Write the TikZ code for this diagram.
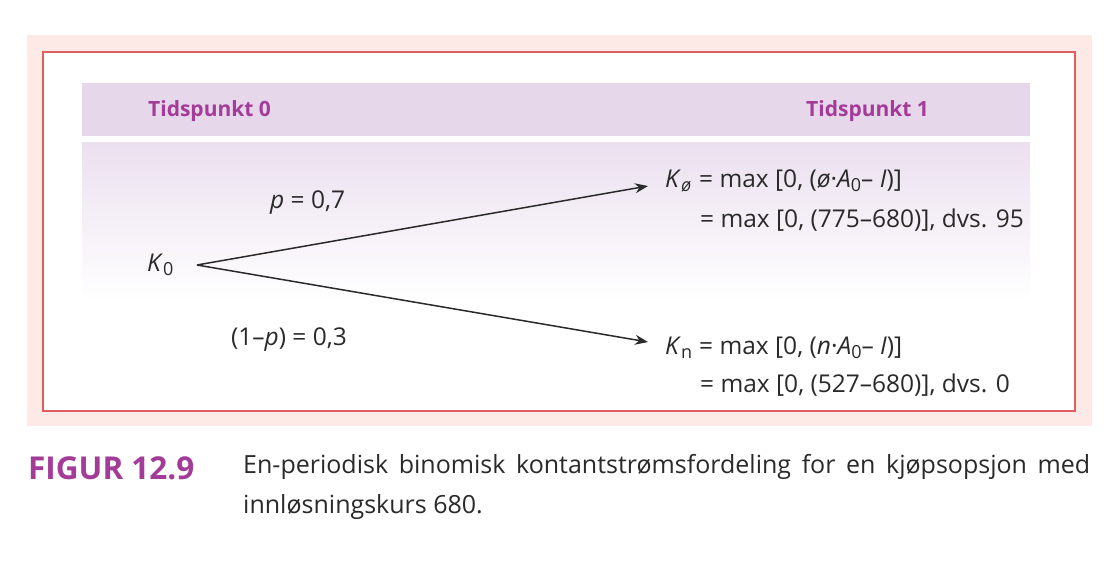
\documentclass[tikz,border=0pt]{standalone}
\usepackage{fontspec}
\setmainfont{Open Sans}
\usetikzlibrary{arrows.meta}
\definecolor{bandpink}{HTML}{FDE9E5}
\definecolor{borderred}{HTML}{DE5F62}
\definecolor{headpurple}{HTML}{E7D7EB}
\definecolor{bodypurple}{HTML}{EBE0EF}
\definecolor{titlepurple}{HTML}{A33B98}
\definecolor{txt}{HTML}{2A2A2A}
\tikzset{
  body/.style={anchor=base west, inner sep=0pt, font=\fontsize{24.5}{28}\selectfont, text=txt},
  head/.style={anchor=base west, inner sep=0pt, font=\fontsize{21}{25}\selectfont\bfseries, text=titlepurple},
  arr/.style={line width=1.5pt, draw=txt, -{Stealth[length=13pt,width=10pt]}},
}
\newcommand{\vi}[1]{\textit{#1}}
\newcommand{\sbs}[1]{\raisebox{-4pt}{\fontsize{18}{18}\selectfont #1}}
\begin{document}
\begin{tikzpicture}[x=1pt,y=-1pt]
\useasboundingbox (0,0) rectangle (1117,575);
\fill[white] (0,0) rectangle (1117,575);
% outer pink band and red border
\fill[bandpink] (27,35) rectangle (1092,426);
\fill[white,draw=borderred,line width=2pt] (43,52) rectangle (1075,411);
% header band
\fill[headpurple] (82,83) rectangle (1030,136);
% body gradient
\shade[top color=bodypurple,bottom color=white] (82,143) rectangle (1030,300);
% header texts
\node[head] (t0) at (148,117) {Tidspunkt 0};
\node[head] (t1) at (806,117) {Tidspunkt 1};
% tree
\node[body] (k0) at (147,271) {\vi{K}\sbs{0}};
\coordinate (s) at (197,265);
\coordinate (tu) at (648,186);
\coordinate (tn) at (648,342);
\draw[arr] (s) -- (tu);
\draw[arr] (s) -- (tn);
\node[body] (pu) at (270,208) {\vi{p} = 0,7};
\node[body] (pn) at (231,345) {(1–\vi{p}) = 0,3};
% upper outcome
\node[body] (ku) at (665,188) {\vi{K}\sbs{\vi{ø}}};
\node[body] (ku1) at (699,188) {= max [0, (\vi{ø}·\vi{A}\sbs{0}– \vi{I})]};
\node[body] (ku2) at (700,227) {= max [0, (775–680)], dvs. 95};
% lower outcome
\node[body] (kn) at (665,354) {\vi{K}\sbs{n}};
\node[body] (kn1) at (699,354) {= max [0, (\vi{n}·\vi{A}\sbs{0}– \vi{I})]};
\node[body] (kn2) at (700,392) {= max [0, (527–680)], dvs. 0};
% caption
\node[anchor=base west, inner sep=0pt, font=\fontsize{31.5}{35}\selectfont\bfseries, text=titlepurple] (fig) at (28,479) {FIGUR 12.9};
\node[anchor=north west, inner sep=0pt, text width=847pt, align=justify,
      font=\fontsize{25}{40}\selectfont, text=txt] (cap) at (243,454)
  {En-periodisk binomisk kontantstrømsfordeling for en kjøpsopsjon med\linebreak innløsningskurs 680.};
\end{tikzpicture}
\end{document}
